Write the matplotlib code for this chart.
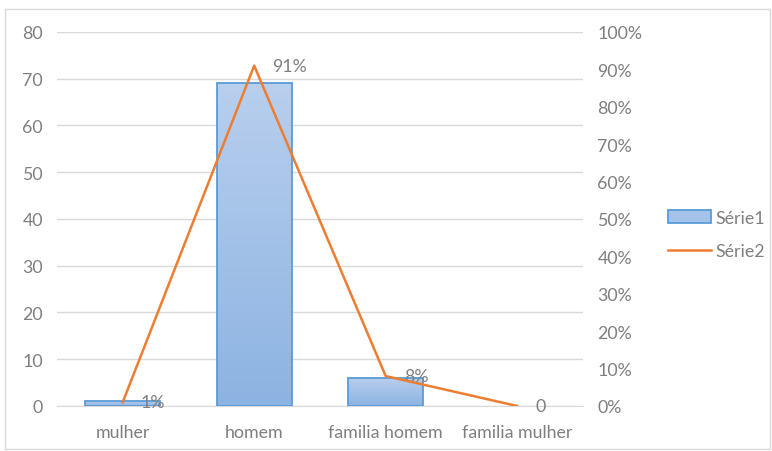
import matplotlib.pyplot as plt
import numpy as np
from matplotlib.patches import Rectangle
from matplotlib.colors import LinearSegmentedColormap
from matplotlib.ticker import FuncFormatter

categories = ["mulher", "homem", "familia homem", "familia mulher"]
serie1 = [1, 69, 6, 0]
serie2 = [0.01, 0.91, 0.08, 0.0]
serie2_labels = ["1%", "91%", "8%", "0"]

plt.rcParams["font.family"] = ["Lato", "DejaVu Sans"]
grey = "#7f7f7f"
fs = 12.8

fig = plt.figure(figsize=(7.72, 4.52), dpi=100)
fig.patches.append(Rectangle((0.007, 0.004), 0.99, 0.974, transform=fig.transFigure,
                             fill=False, edgecolor="#d9d9d9", linewidth=1))

ax = fig.add_axes([0.0738, 0.0996, 0.6812, 0.8274])
x = np.arange(len(categories))
width = 0.57

cmap = LinearSegmentedColormap.from_list("g", ["#8db3e2", "#b8cfee"])
grad = np.linspace(0, 1, 100).reshape(-1, 1)
for xi, v in zip(x, serie1):
    if v <= 0:
        continue
    rect = Rectangle((xi - width / 2, 0), width, v, facecolor="none",
                     edgecolor="#5b9bd5", linewidth=1.3, zorder=3)
    ax.add_patch(rect)
    im = ax.imshow(grad, cmap=cmap, aspect="auto", origin="lower",
                   extent=(xi - width / 2, xi + width / 2, 0, v), zorder=2)
    im.set_clip_path(rect)

ax.set_xlim(-0.5, len(categories) - 0.5)
ax.set_ylim(0, 80)
ax.set_yticks(range(0, 81, 10))
ax.set_xticks(x)
ax.set_xticklabels(categories)
ax.grid(axis="y", color="#d9d9d9", linewidth=1, zorder=0)
ax.set_axisbelow(True)
for s in ["top", "right", "left"]:
    ax.spines[s].set_visible(False)
ax.spines["bottom"].set_color("#d9d9d9")
ax.tick_params(length=0, colors=grey, labelsize=fs)
ax.tick_params(axis="y", pad=10)
ax.tick_params(axis="x", pad=13)

ax2 = ax.twinx()
ax2.plot(x, serie2, color="#ed7d31", linewidth=1.8, zorder=4)
ax2.set_ylim(0, 1)
ax2.set_yticks(np.linspace(0, 1, 11))
ax2.yaxis.set_major_formatter(FuncFormatter(lambda v, p: f"{v * 100:.0f}%"))
for s in ax2.spines.values():
    s.set_visible(False)
ax2.tick_params(length=0, colors=grey, labelsize=fs, pad=10.5)
for xi, v, lab in zip(x, serie2, serie2_labels):
    ax2.annotate(lab, (xi, v), xytext=(13, 0), textcoords="offset points",
                 color=grey, fontsize=fs, ha="left", va="center")

bar_h = Rectangle((0, 0), 1, 1, facecolor="#a5c2eb", edgecolor="#5b9bd5", linewidth=1.3)
line_h, = ax2.plot([], [], color="#ed7d31", linewidth=1.8)
fig.legend([bar_h, line_h], ["Série1", "Série2"], loc="center left",
           bbox_to_anchor=(0.845, 0.479), frameon=False, labelcolor=grey,
           fontsize=fs, handlelength=2.4, handletextpad=0.25, labelspacing=1.0)

fig.savefig("out.png", dpi=100)
